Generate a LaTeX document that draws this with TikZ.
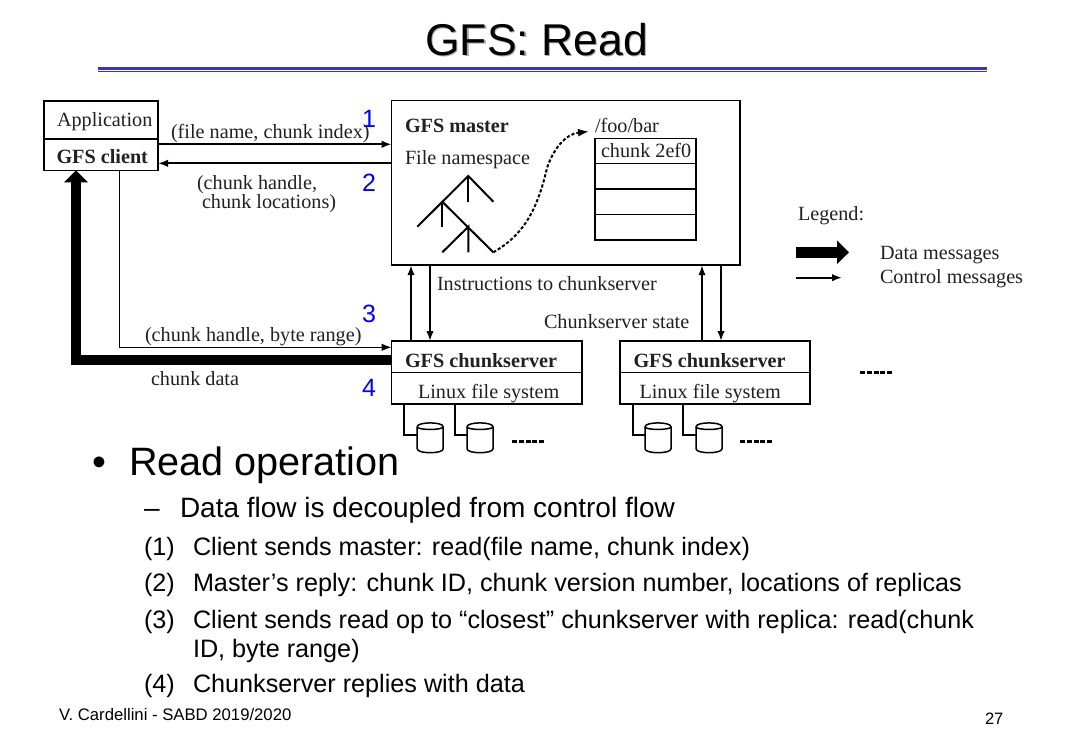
\documentclass[tikz,border=0pt]{standalone}
\usepackage{fontspec}
\setmainfont{Liberation Serif}
\newfontfamily\slidefont{Liberation Sans}
\usetikzlibrary{arrows.meta,calc}
\definecolor{rulecol}{RGB}{51,51,204}
\definecolor{inkcol}{gray}{0.13}
\newcommand{\fsz}[1]{\fontsize{#1}{#1}\selectfont}
\tikzset{
  box/.style={draw=black,line width=1.5pt,anchor=north west,inner sep=0pt,outer sep=0pt},
  fig/.style={anchor=base west,inner sep=0pt,outer sep=0pt,text=inkcol,font=\fsz{20.2}},
  figb/.style={fig,font=\fsz{20.2}\bfseries},
  num/.style={anchor=base,inner sep=0pt,outer sep=0pt,text=blue,font=\slidefont\fsz{25}},
  slide/.style={anchor=base west,inner sep=0pt,outer sep=0pt,text=black,font=\slidefont\fsz{25.2}},
  ctrl/.style={line width=1.9pt,-{Latex[length=10pt,width=7.5pt]}},
  data/.style={line width=10pt,-{Triangle[length=12pt,width=23pt]}},
  link/.style={line width=1.6pt},
  tree/.style={line width=2pt},
  dots/.style={line width=3pt,dash pattern=on 5pt off 1.8pt},
  diskspot/.style={inner sep=0pt,outer sep=0pt,minimum width=26pt,minimum height=29.5pt},
  diskline/.style={draw=black,line width=1.5pt,fill=white}
}
% One disk: a short cylinder centred on the named spot
\newcommand{\diskat}[1]{%
  \begin{scope}[shift={(#1.center)}]
    \path[diskline] (-13,-11) .. controls (-13,-16.2) and (13,-16.2) .. (13,-11)
      -- (13,11) .. controls (13,16.2) and (-13,16.2) .. (-13,11) -- cycle;
    \draw[diskline,fill=none] (-13,-11) .. controls (-13,-7.5) and (13,-7.5) .. (13,-11);
  \end{scope}}
\begin{document}
\begin{tikzpicture}[x=1pt,y=-1pt]
\useasboundingbox (0,0) rectangle (1071,752);
\fill[white] (0,0) rectangle (1071,752);

% Heading and double rule
\node[anchor=base,inner sep=0pt,text=black!35,font=\slidefont\fsz{44.5}] (titleshadow) at (537.8,56.5) {GFS: Read};
\node[anchor=base,inner sep=0pt,text=black,font=\slidefont\fsz{44.5}] (title) at (536.5,55.5) {GFS: Read};
\fill[rulecol] (98,66.8) rectangle (987,70);
\fill[rulecol] (98,70.8) rectangle (987,72);

% Client
\node[box,minimum width=114pt,minimum height=38pt] (app) at (44,101) {};
\node[box,minimum width=114pt,minimum height=31.3pt] (client) at (44,139) {};
\node[fig] (applabel) at (57,126) {Application};
\node[figb] (clientlabel) at (56.5,163) {GFS client};

% Master and its file namespace
\node[box,minimum width=348.5pt,minimum height=164.5pt] (master) at (391.7,100.7) {};
\node[figb] (masterlabel) at (405,132) {GFS master};
\node[fig] (nslabel) at (405,164) {File namespace};
\node[fig] (foobar) at (595,132) {/foo/bar};

\coordinate (top) at (468.3,176);
\coordinate (rleaf) at (493.3,201.7);
\coordinate (midl) at (442.3,201.7);
\coordinate (midc) at (468.3,201.7);
\coordinate (lleaf) at (417.3,226.7);
\coordinate (lchild) at (442.3,226.7);
\coordinate (sub) at (468.3,226.7);
\coordinate (sleaf) at (442.3,252.3);
\coordinate (scent) at (468.3,252.3);
\coordinate (sright) at (493.3,252.3);
\draw[tree] (lleaf) -- (top) -- (rleaf);
\draw[tree] (top) -- (midc);
\draw[tree] (midl) -- (lchild);
\draw[tree] (midl) -- (sright);
\draw[tree] (sleaf) -- (sub) -- (scent);

% Chunk table
\node[box,minimum width=101pt,minimum height=25pt] (row1) at (595,138.5) {};
\node[box,minimum width=101pt,minimum height=25.5pt] (row2) at (595,163.5) {};
\node[box,minimum width=101pt,minimum height=25.3pt] (row3) at (595,189) {};
\node[box,minimum width=101pt,minimum height=25.7pt] (row4) at (595,214.3) {};
\node[fig] (chunklabel) at (601,157) {chunk 2ef0};

\coordinate (ptr) at (589,131.5);
\draw[line width=2pt,dash pattern=on 3.2pt off 2pt,-{Latex[length=11pt,width=8pt]}]
  (sright) .. controls (522,236) and (537,212) .. (547,168)
  .. controls (553,150) and (565,134) .. (ptr);

% Client-master messages
\coordinate (r1) at (0,144.3);
\coordinate (r2) at (0,163.3);
\draw[ctrl] (client.east |- r1) -- (master.west |- r1);
\draw[ctrl] (master.west |- r2) -- (client.east |- r2);
\node[fig] (m1) at (171,138) {(file name, chunk index)};
\node[fig] (m2a) at (197,189) {(chunk handle,};
\node[fig] (m2b) at (202,208) {chunk locations)};
\node[num] (n1) at (369,127) {1};
\node[num] (n2) at (369,191.7) {2};

% Chunkservers
\node[box,minimum width=190.3pt,minimum height=31.7pt] (cs1) at (391.7,341) {};
\node[box,minimum width=190.3pt,minimum height=31.5pt] (fs1) at (391.7,372.7) {};
\node[box,minimum width=190pt,minimum height=31.7pt] (cs2) at (620,341) {};
\node[box,minimum width=190pt,minimum height=31.5pt] (fs2) at (620,372.7) {};
\node[figb] (cs1label) at (405,367) {GFS chunkserver};
\node[figb] (cs2label) at (633.5,367) {GFS chunkserver};
\node[fig] (fs1label) at (418,398) {Linux file system};
\node[fig] (fs2label) at (639.5,398) {Linux file system};

% Master-chunkserver control traffic
\coordinate (v1) at (411,0);
\coordinate (v2) at (430,0);
\coordinate (v3) at (702,0);
\coordinate (v4) at (721,0);
\draw[ctrl] (cs1.north -| v1) -- (master.south -| v1);
\draw[ctrl] (master.south -| v2) -- (cs1.north -| v2);
\draw[ctrl] (cs2.north -| v3) -- (master.south -| v3);
\draw[ctrl] (master.south -| v4) -- (cs2.north -| v4);
\node[fig] (instr) at (437,290.7) {Instructions to chunkserver};
\node[fig] (state) at (544,328) {Chunkserver state};

% Read request and returned data
\coordinate (v5) at (119.3,0);
\coordinate (r3) at (0,347.3);
\coordinate (r4) at (0,360);
\coordinate (v6) at (76,0);
\draw[line width=1.6pt,-{Latex[length=10pt,width=7.5pt]}] (client.south -| v5) |- (cs1.west |- r3);
\draw[data] (cs1.west |- r4) -| (client.south -| v6);
\node[fig] (m3) at (145,341) {(chunk handle, byte range)};
\node[fig] (m4) at (151,385.7) {chunk data};
\node[num] (n3) at (369,322.7) {3};
\node[num] (n4) at (369,396.7) {4};

% Disks attached to each chunkserver
\node[diskspot] (d1) at (430.2,437.8) {};
\node[diskspot] (d2) at (480,437.8) {};
\node[diskspot] (d3) at (658,437.8) {};
\node[diskspot] (d4) at (709,437.8) {};
\diskat{d1}\diskat{d2}\diskat{d3}\diskat{d4}
\coordinate (t1) at (404,0);
\coordinate (t2) at (455,0);
\coordinate (t3) at (633,0);
\coordinate (t4) at (683,0);
\coordinate (r5) at (0,435);
\draw[link] (fs1.south -| t1) |- (d1.west |- r5);
\draw[link] (fs1.south -| t2) |- (d2.west |- r5);
\draw[link] (fs2.south -| t3) |- (d3.west |- r5);
\draw[link] (fs2.south -| t4) |- (d4.west |- r5);
\coordinate (e1) at (512,441);
\coordinate (e2) at (545,441);
\coordinate (e3) at (740,441);
\coordinate (e4) at (773,441);
\coordinate (e5) at (860,372);
\coordinate (e6) at (893,372);
\draw[dots] (e1) -- (e2);
\draw[dots] (e3) -- (e4);
\draw[dots] (e5) -- (e6);

% Legend
\node[fig] (legend) at (798,220.7) {Legend:};
\coordinate (ld1) at (796,252.3);
\coordinate (ld2) at (849,252.3);
\coordinate (lc1) at (796,277.7);
\coordinate (lc2) at (842,277.7);
\draw[line width=11pt,-{Triangle[length=12pt,width=23pt]}] (ld1) -- (ld2);
\draw[ctrl] (lc1) -- (lc2);
\node[fig] (ldata) at (880,259) {Data messages};
\node[fig] (lctrl) at (880,283) {Control messages};

% Slide text
\node[slide,font=\slidefont\fsz{39.6}] (bullet) at (92,475) {•};
\node[slide,font=\slidefont\fsz{39.6}] (head) at (129,475) {Read operation};
\node[slide,font=\slidefont\fsz{28}] (dash) at (144,517) {–};
\node[slide,font=\slidefont\fsz{28}] (s0) at (180,517) {Data flow is decoupled from control flow};
\node[slide] (i1) at (144,555) {(1)};
\node[slide] (s1) at (193,555) {Client sends master: read(file name, chunk index)};
\node[slide] (i2) at (144,591) {(2)};
\node[slide] (s2) at (193,591) {Master’s reply: chunk ID, chunk version number, locations of replicas};
\node[slide] (i3) at (144,628) {(3)};
\node[slide] (s3) at (193,628) {Client sends read op to “closest” chunkserver with replica: read(chunk};
\node[slide] (s3b) at (193,657) {ID, byte range)};
\node[slide] (i4) at (144,692) {(4)};
\node[slide] (s4) at (193,692) {Chunkserver replies with data};
\node[slide,font=\slidefont\fsz{16.7}] (foot) at (59,720) {V. Cardellini - SABD 2019/2020};
\node[slide,font=\slidefont\fsz{16.5}] (page) at (985,724) {27};
\end{tikzpicture}
\end{document}
